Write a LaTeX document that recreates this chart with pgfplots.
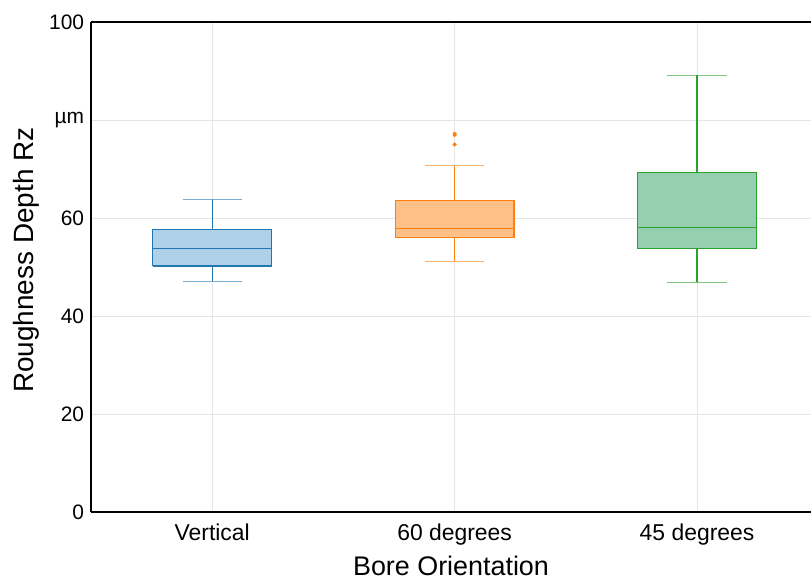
\documentclass[border=0pt]{standalone}
\usepackage{pgfplots}
\pgfplotsset{compat=1.18}
\usepackage{fontspec}
\setmainfont{Liberation Sans}
\definecolor{cblue}{HTML}{1F77B4}
\definecolor{corange}{HTML}{FF7F0E}
\definecolor{cgreen}{HTML}{2CA02C}
\definecolor{fblue}{RGB}{175,208,233}
\definecolor{forange}{RGB}{254,192,134}
\definecolor{fgreen}{RGB}{150,207,176}
\begin{document}
\begin{tikzpicture}
\begin{axis}[
  name=ax,
  scale only axis, width=720bp, height=490bp,
  xmin=-0.5, xmax=2.47, ymin=0, ymax=100,
  axis lines*=left,
  axis line style={line width=1.3bp, black},
  xtick={0,1,2}, xticklabels={Vertical,60 degrees,45 degrees},
  ytick={0,20,40,60,80,100}, yticklabels={0,20,40,60,µm,100},
  major tick length=0pt,
  grid=major, grid style={draw=black!10, line width=0.8bp},
  /pgf/number format/assume math mode=true,
  yticklabel style={font=\fontsize{21}{25}\selectfont, xshift=-3bp},
  xticklabel style={font=\fontsize{23}{27}\selectfont, yshift=-8bp},
  xlabel={Bore Orientation}, ylabel={Roughness Depth Rz},
  xlabel style={font=\fontsize{27}{31}\selectfont, at={(axis description cs:0.5,-0.109)}, anchor=center},
  ylabel style={font=\fontsize{28}{32}\selectfont, at={(axis description cs:-0.090,0.514)}, anchor=center},
  line width=1.2bp, mark=none, line join=miter,
]
% Vertical
\addplot[draw=cblue, fill=fblue] coordinates {(-0.245,50.2) (0.245,50.2) (0.245,57.6) (-0.245,57.6) (-0.245,50.2)};
\addplot[draw=cblue] coordinates {(-0.245,53.7) (0.245,53.7)};
\addplot[draw=cblue] coordinates {(0,57.6) (0,63.7)};
\addplot[draw=cblue] coordinates {(0,50.2) (0,47.1)};
\addplot[draw=cblue, draw opacity=0.6] coordinates {(-0.1225,63.7) (0.1225,63.7)};
\addplot[draw=cblue, draw opacity=0.6] coordinates {(-0.1225,47.1) (0.1225,47.1)};
% 60 degrees
\addplot[draw=corange, fill=forange] coordinates {(0.755,56.0) (1.245,56.0) (1.245,63.6) (0.755,63.6) (0.755,56.0)};
\addplot[draw=corange] coordinates {(0.755,57.9) (1.245,57.9)};
\addplot[draw=corange] coordinates {(1,63.6) (1,70.7)};
\addplot[draw=corange] coordinates {(1,56.0) (1,51.2)};
\addplot[draw=corange, draw opacity=0.6] coordinates {(0.8775,70.7) (1.1225,70.7)};
\addplot[draw=corange, draw opacity=0.6] coordinates {(0.8775,51.2) (1.1225,51.2)};
\addplot[only marks, mark=*, mark size=1.3bp, draw=corange, fill=corange] coordinates {(1,76.9) (1,77.2) (1,75.0)};
% 45 degrees
\addplot[draw=cgreen, fill=fgreen] coordinates {(1.755,53.7) (2.245,53.7) (2.245,69.3) (1.755,69.3) (1.755,53.7)};
\addplot[draw=cgreen] coordinates {(1.755,58.1) (2.245,58.1)};
\addplot[draw=cgreen] coordinates {(2,69.3) (2,89.1)};
\addplot[draw=cgreen] coordinates {(2,53.7) (2,46.9)};
\addplot[draw=cgreen, draw opacity=0.6] coordinates {(1.8775,89.1) (2.1225,89.1)};
\addplot[draw=cgreen, draw opacity=0.6] coordinates {(1.8775,46.9) (2.1225,46.9)};
\end{axis}
\draw[line width=1.3bp] (ax.north west) -- (ax.north east);
\pgfresetboundingbox
\path[use as bounding box] ([shift={(-91bp,-69bp)}]ax.south west) rectangle ([shift={(0bp,22bp)}]ax.north east);
\end{tikzpicture}
\end{document}
